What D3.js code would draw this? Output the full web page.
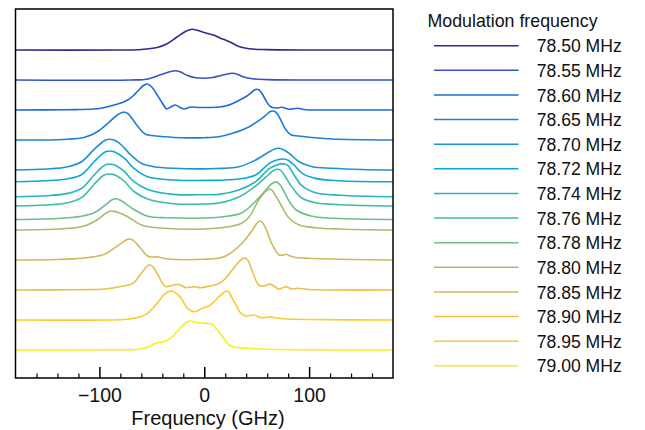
<!DOCTYPE html>
<html><head><meta charset="utf-8">
<script src="https://cdn.jsdelivr.net/npm/d3@7"></script>
<style>body{margin:0;background:#fff}svg{display:block}</style>
</head><body><svg id="c" width="645" height="430"></svg>
<script>
const modFreqs = ["78.50","78.55","78.60","78.65","78.70","78.72","78.74","78.76","78.78","78.80","78.85","78.90","78.95","79.00"];
const offsets = [300,270,240,210,180,168.3,153.3,144,130.5,120,90,60,30,0];
const colors = ['#2e2b8c','#3352c8','#1f68e0','#1c80d8','#1e90d8','#0ca8d8','#25b5c0','#3dbda6','#6cc088','#a5be6e','#d2b85a','#ecc046','#fbcb2c','#f9f01a'];
const xMajorTicks = [-100,0,100];
const xMinorTicks = [-160,-140,-120,-80,-60,-40,-20,20,40,60,80,120,140,160];

const s7850 = [[-180,0],[-80,0],[-60,0.5],[-45,2.5],[-35,6.5],[-26,13],[-18,18.5],[-14,20.3],[-11,20.7],[-7,19.8],[-3,18.5],[0,17.5],[5,16],[10,14.5],[15,12],[24,8.3],[33,3.5],[43,1.2],[60,0.4],[100,0],[180,0]];
const s7855 = [[-180,0],[-70,0],[-55,0.8],[-45,4],[-38,6.5],[-32,8.5],[-28,9.3],[-23,8.3],[-16,4.5],[-8,2.2],[0,1.8],[8,2.5],[15,4.3],[22,6],[27,6.7],[32,5.5],[37,3.3],[46,1.2],[60,0.4],[100,0],[180,0]];
const s7860 = [[-180,0],[-130,0.3],[-105,1],[-95,2.5],[-86,5],[-78,7.5],[-73,10],[-68,14],[-64,18.3],[-61,21.5],[-58,24.5],[-55.5,25.8],[-53.5,25.8],[-51,24],[-48.5,21],[-46,17],[-40,7],[-36,1.2],[-32,3],[-27.5,5],[-23,2.5],[-19,1],[-13,3],[-5,2.5],[5,2.5],[15,3],[22,4.5],[27,6.5],[33,9.5],[40,13.5],[45,17.5],[48,20],[50,20.8],[52,20.3],[54,18],[56,15],[58,11],[63,3.5],[68,2],[74,2.7],[81,0.7],[89,1.7],[97,0.3],[120,0],[180,0]];
const s7865 = [[-180,0],[-135,0.5],[-114,2.7],[-102,8.3],[-92,16.7],[-83,25],[-79,27.3],[-76,27.8],[-73,26.5],[-71,24.5],[-69,21.7],[-62,11.7],[-56,5.7],[-48,4.3],[-38,3.3],[-22,2.3],[0,2.3],[14,3.3],[27,6.7],[43,13.3],[55,21.7],[60,26],[63,28.5],[65.5,29],[68,28],[70,25.5],[72,22],[78,10],[83,5],[90,4],[100,2.7],[122,1],[180,0]];
const s7870 = [[-180,0],[-150,1],[-130,3.3],[-117,8.3],[-105,20.7],[-97,28],[-93.5,30.3],[-90.5,30.7],[-87,30.3],[-84,29],[-79,25],[-70,15],[-60,6.7],[-48,3.3],[-29,1.7],[5,1.3],[33,3.3],[49,10],[62,18.3],[68,21.3],[71.4,21.7],[75,20.5],[81,16.7],[90.5,8.3],[103,3.3],[122,1.7],[150,0.5],[180,0]];
const s7872 = [[-180,0],[-150,1],[-130,3],[-117,7],[-105,20],[-97,28],[-93.5,30.3],[-90.5,30.7],[-87,30.2],[-84,29],[-76,23.3],[-67,13.3],[-54,5],[-29,1.7],[5,1.3],[33,2.7],[49,6.7],[62,18.3],[70,22],[76,22.7],[80,21.5],[85.7,16.7],[93.5,8.3],[106,3.3],[128,1],[180,0]];
const s7874 = [[-180,0],[-150,1],[-130,3.3],[-117,8.3],[-105,21.7],[-97,30],[-93.5,32.3],[-90.5,32.7],[-87,32.2],[-84,31],[-76,25],[-67,15],[-54,7.3],[-29,2.3],[0,2],[14,2.3],[33,6.7],[49,15],[62,28],[70,32],[74,32.8],[77,32.7],[80,31],[85,23],[93,11],[106,4],[130,1.5],[180,0]];
const s7876 = [[-180,0],[-150,1],[-130,3.3],[-117,8.3],[-105,21.7],[-97,30],[-93.5,31.7],[-90.5,32],[-87,31.6],[-84,30.5],[-76,24.5],[-67,14.5],[-54,7],[-29,2.3],[0,2],[14,3],[33,9],[49,20],[62,32],[66,35.5],[70.5,36.7],[74,34.5],[77,30],[85,17],[93,8],[106,3.3],[130,1.3],[180,0]];
const s7878 = [[-180,0],[-140,1],[-117,3.3],[-105,6.7],[-95,14],[-89,19],[-86,20.4],[-84,20.7],[-81,19.8],[-78,18],[-67,10],[-54,3.3],[-35,1.7],[0,1.5],[20,3],[36,6.7],[49,18.3],[60,31],[64,35.5],[68.6,37.6],[72,35],[75,30],[81,18.3],[87,10],[103,3.3],[130,1],[180,0]];
const s7880 = [[-180,0],[-140,1],[-117,3.3],[-105,8.3],[-96,15],[-91.5,18.3],[-89,19],[-86,18.6],[-82,17.5],[-73,13.3],[-60,5],[-38,1.7],[0,1],[25,3.5],[36,7],[43,13.3],[52,30],[58,38],[61,40.3],[63,40.7],[65,39.5],[67,36],[71.4,28.3],[81,11.7],[90.5,5],[106,2.3],[129,1],[180,0]];
const s7885 = [[-180,0],[-140,0.5],[-117,1.7],[-95,5.7],[-86,11.7],[-79,16.7],[-74,20.3],[-71.4,21],[-69,20.5],[-67,19],[-62,13.3],[-54,4],[-50,3],[-45,3.3],[-40,2],[-35,1],[0,0.7],[17.5,2.7],[27,8.3],[36,16.7],[46,30],[50,36.5],[53,39],[55.5,37.5],[58.7,31.7],[65,15],[71.4,5],[75,5],[78,5.7],[82,4],[86,2.7],[100,1.7],[140,0.5],[180,0]];
const s7890 = [[-180,0],[-120,0.3],[-95,1],[-76,4.3],[-68,6.7],[-60,16.7],[-56,22],[-53.5,24.7],[-51.5,25],[-49.5,24],[-48,22],[-44,15],[-40,7],[-36.5,3.3],[-31,4.5],[-26,5.7],[-21,4],[-17.5,2.3],[-12,3],[-9.5,3.3],[-3,2.3],[5,4],[10,5],[17,8.3],[26.7,20],[33,28.3],[36.5,31.2],[39.7,31.7],[42,29],[46,18.3],[52,5],[57,4],[62.5,6],[67,3.5],[71.4,1],[77.8,3.3],[84,0.8],[89,1.7],[100,0.5],[180,0]];
const s7895 = [[-180,0],[-90,0],[-76,0.5],[-62,3],[-54,6.7],[-45,16.7],[-38,25.7],[-34,28.5],[-30.5,29],[-27,27],[-22,21.7],[-16,11.7],[-9.5,8.3],[-2,11.7],[4.8,14.3],[10,19],[14,23.3],[18,27],[20.5,28.7],[22,29],[23.5,28],[25,25],[28.6,18.3],[35,6.7],[39.7,4],[44,4.5],[47.6,5],[52,3],[55,2.3],[60,2.8],[63.5,3.3],[68,2],[75,1.3],[100,0.5],[180,0]];
const s7900 = [[-180,0],[-86,0.3],[-60,1],[-49.5,5],[-46,7],[-40,8],[-35,10],[-30,13.5],[-26,18.3],[-20,25],[-16,28.3],[-13,29],[-8,27.7],[0,26.7],[4.8,26.5],[8,25.5],[11,21.7],[14,18],[17.5,13.3],[20.5,9],[23.8,5],[30,2.7],[40,1.7],[59,0.7],[100,0.2],[180,0]];
const spectra = [s7850,s7855,s7860,s7865,s7870,s7872,s7874,s7876,s7878,s7880,s7885,s7890,s7895,s7900];

const svg = d3.select('#c');
const L = 15.5, R = 393, T = 9, B = 378;
const x = d3.scaleLinear().domain([-180,180]).range([L,R]);
const y = d3.scaleLinear().domain([-28,341]).range([B,T]);

const plot = svg.append('g');
plot.append('clipPath').attr('id','clip').append('rect').attr('x',L).attr('y',T).attr('width',R-L).attr('height',B-T);
const lines = plot.append('g').attr('clip-path','url(#clip)');
spectra.forEach((s,i) => {
  const line = d3.line().x(d => x(d[0])).y(d => y(offsets[i] + d[1])).curve(d3.curveCatmullRom.alpha(0.5));
  lines.append('path').attr('d', line(s)).attr('fill','none').attr('stroke',colors[i]).attr('stroke-width',1.6).attr('stroke-linejoin','round');
});

// axis
const axMajor = d3.axisBottom(x).tickValues(xMajorTicks).tickSizeInner(-11).tickSizeOuter(0).tickPadding(10.5);
const gMaj = svg.append('g').attr('transform',`translate(0,${B})`).call(axMajor);
gMaj.select('.domain').remove();
gMaj.selectAll('line').attr('stroke','#000').attr('stroke-width',1.5);
gMaj.selectAll('text').attr('font-family','Liberation Sans, Arial, sans-serif').attr('font-size','19.5px').attr('fill','#111');
const axMinor = d3.axisBottom(x).tickValues(xMinorTicks).tickSizeInner(-4.5).tickSizeOuter(0).tickFormat('');
const gMin = svg.append('g').attr('transform',`translate(0,${B})`).call(axMinor);
gMin.select('.domain').remove();
gMin.selectAll('line').attr('stroke','#000').attr('stroke-width',1.2);

svg.append('rect').attr('x',L).attr('y',T).attr('width',R-L).attr('height',B-T).attr('fill','none').attr('stroke','#000').attr('stroke-width',1.5);

svg.append('text').attr('x',208).attr('y',425).attr('text-anchor','middle')
  .attr('font-family','Liberation Sans, Arial, sans-serif').attr('font-size','20px').attr('fill','#111').text('Frequency (GHz)');

// legend
const lg = svg.append('g');
lg.append('text').attr('x',427.5).attr('y',27.3).attr('font-family','Liberation Sans, Arial, sans-serif').attr('font-size','17.8px').attr('fill','#111').text('Modulation frequency');
modFreqs.forEach((f,i) => {
  const yy = 45.7 + i*24.62;
  lg.append('line').attr('x1',434).attr('x2',518.5).attr('y1',yy).attr('y2',yy).attr('stroke',colors[i]).attr('stroke-width',1.5);
  lg.append('text').attr('x',536.7).attr('y',yy+6.6).attr('font-family','Liberation Sans, Arial, sans-serif').attr('font-size','17.6px').attr('fill','#111').text(f + ' MHz');
});
</script>
</body></html>
